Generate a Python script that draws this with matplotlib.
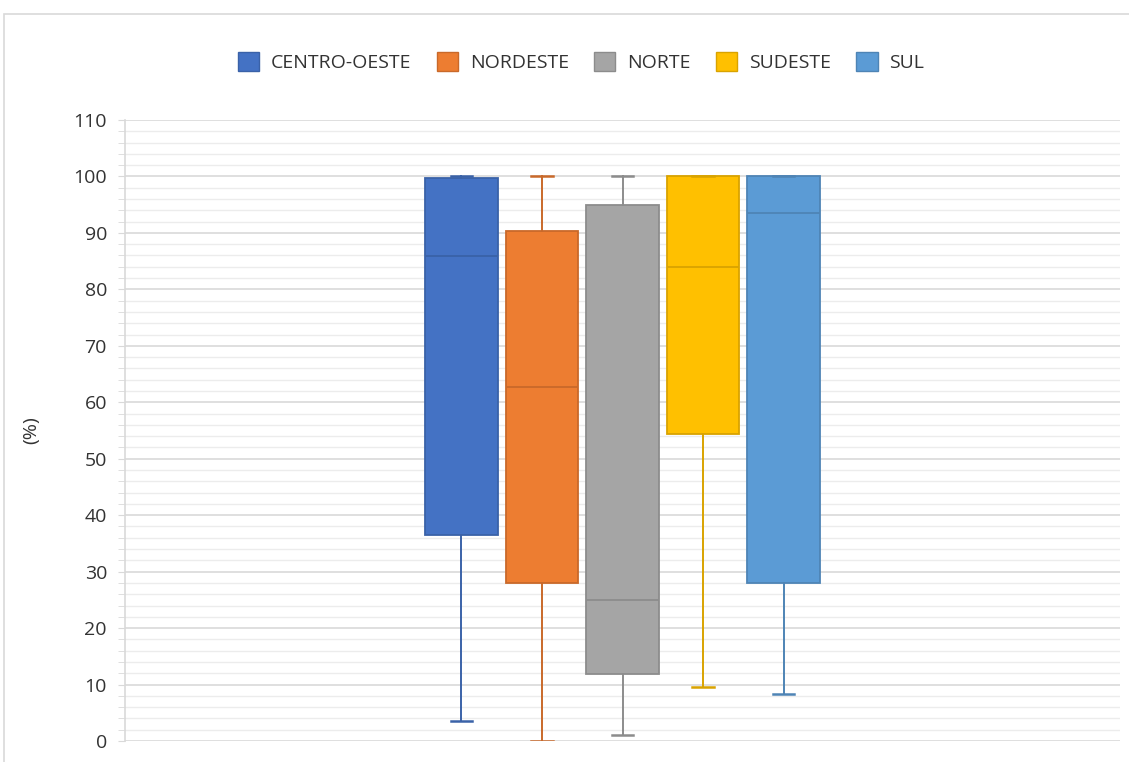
import matplotlib
matplotlib.use('Agg')
import matplotlib.pyplot as plt
from matplotlib.patches import Patch, Rectangle
from matplotlib.ticker import MultipleLocator

plt.rcParams['font.family'] = ['Open Sans', 'DejaVu Sans']

regions = ['CENTRO-OESTE', 'NORDESTE', 'NORTE', 'SUDESTE', 'SUL']
whis_low = [3.5, 0.0, 1.1, 9.6, 8.3]
q1 = [36.5, 28.0, 11.9, 54.4, 28.0]
median = [85.9, 62.7, 25.0, 84.0, 93.5]
q3 = [99.7, 90.3, 95.0, 100.0, 100.0]
whis_high = [100.0, 100.0, 100.0, 100.0, 100.0]

fills = ['#4472C4', '#ED7D31', '#A5A5A5', '#FFC000', '#5B9BD5']
edges = ['#3A62A8', '#C9692A', '#8C8C8C', '#D9A300', '#4E84B5']

fig = plt.figure(figsize=(11.29, 7.62), dpi=100)
# light chart-area border
fig.patches.append(Rectangle((4 / 1129, -0.01), 1.0, 1 - 14 / 762 + 0.01,
                             transform=fig.transFigure, fill=False,
                             edgecolor='#d9d9d9', linewidth=1.2))
ax = fig.add_axes([125 / 1129, 1 - 741 / 762, (1120 - 125) / 1129, (741 - 120) / 762])

for i, pos in enumerate(range(1, 6)):
    stats = [{'whislo': whis_low[i], 'q1': q1[i], 'med': median[i],
              'q3': q3[i], 'whishi': whis_high[i], 'fliers': []}]
    ax.bxp(stats, positions=[pos], widths=0.9, patch_artist=True,
           showfliers=False,
           boxprops=dict(facecolor=fills[i], edgecolor=edges[i], linewidth=1.3),
           medianprops=dict(color=edges[i], linewidth=1.3),
           whiskerprops=dict(color=edges[i], linewidth=1.4),
           capprops=dict(color=edges[i], linewidth=1.8),
           capwidths=0.27)

ax.set_xlim(-3.18, 9.18)
ax.set_ylim(0, 110)
ax.yaxis.set_major_locator(MultipleLocator(10))
ax.yaxis.set_minor_locator(MultipleLocator(2))
ax.grid(which='major', axis='y', color='#d9d9d9', linewidth=1.2)
ax.grid(which='minor', axis='y', color='#ececec', linewidth=1.0)
ax.set_axisbelow(True)
ax.set_xticks([])
for side in ['top', 'right', 'bottom']:
    ax.spines[side].set_visible(False)
ax.spines['left'].set_color('#d9d9d9')
ax.spines['left'].set_linewidth(1.2)
ax.tick_params(axis='y', which='major', length=5, color='#d9d9d9',
               labelsize=14, labelcolor='#333333', pad=8)
ax.tick_params(axis='y', which='minor', length=5, color='#d9d9d9')
ax.set_ylabel('(%)', fontsize=14, color='#333333', labelpad=24)

handles = [Patch(facecolor=f, edgecolor=e, label=r) for f, e, r in zip(fills, edges, regions)]
fig.legend(handles=handles, loc='center', bbox_to_anchor=(581 / 1129, 1 - 62 / 762),
           ncol=5, frameon=False, fontsize=14, handlelength=1.1, handleheight=1.1,
           handletextpad=0.6, columnspacing=1.3, labelcolor='#333333')

fig.savefig('out.png', dpi=100, facecolor='white')
